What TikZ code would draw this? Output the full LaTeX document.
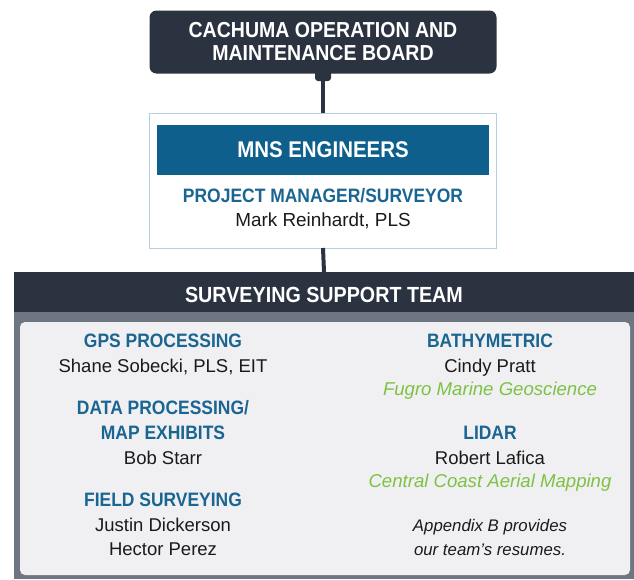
\documentclass[tikz,border=0pt]{standalone}
\usepackage{fontspec}
\setmainfont{Liberation Sans}[BoldFeatures={FakeStretch=0.9},BoldItalicFeatures={FakeStretch=0.9}]
\definecolor{navy}{HTML}{2B3340}
\definecolor{mnsblue}{HTML}{0F5F8C}
\definecolor{headblue}{HTML}{1A6591}
\definecolor{grn}{HTML}{7DC243}
\definecolor{framegray}{HTML}{6E7681}
\definecolor{panelbg}{HTML}{F0F0F2}
\definecolor{lborder}{HTML}{B5CFE0}
\definecolor{txt}{HTML}{1A1A1A}
\tikzset{
  every node/.style={inner sep=0pt, outer sep=0pt},
  wtitle/.style={anchor=base, text=white, font=\fontsize{21.7}{24}\selectfont\bfseries},
  bhead/.style={anchor=base, text=headblue, font=\fontsize{19.4}{22}\selectfont\bfseries},
  pname/.style={anchor=base, text=txt, font=\fontsize{18.5}{21}\selectfont},
  company/.style={anchor=base, text=grn, font=\fontsize{18.6}{21}\selectfont\itshape},
  note/.style={anchor=base, text=txt, font=\fontsize{16.8}{19}\selectfont\itshape},
  conn/.style={draw=navy, line width=4pt}
}
\begin{document}
\begin{tikzpicture}[x=1pt, y=-1pt]
\useasboundingbox (0,0) rectangle (634,579);
% top board
\node[fill=navy, rounded corners=7pt, minimum width=347pt, minimum height=63pt] (board) at (323,42) {};
\node[wtitle] (board1) at (323,37) {CACHUMA OPERATION AND};
\node[wtitle] (board2) at (323,60) {MAINTENANCE BOARD};
% MNS box
\node[fill=white, draw=lborder, line width=1pt, minimum width=347pt, minimum height=135pt] (mns) at (323,180.5) {};
\node[fill=mnsblue, minimum width=332pt, minimum height=50pt] (mnsbar) at (323,150) {};
\node[anchor=base, text=white, font=\fontsize{22.7}{25}\selectfont\bfseries] (mnstxt) at (323,157) {MNS ENGINEERS};
\node[bhead] (pm) at (323,202) {PROJECT MANAGER/SURVEYOR};
\node[pname, font=\fontsize{18.9}{21}\selectfont] (mark) at (323,226) {Mark Reinhardt, PLS};
% team frame
\node[fill=framegray, minimum width=620pt, minimum height=307pt] (team) at (324,425.5) {};
\node[fill=navy, minimum width=620pt, minimum height=40pt] (teamhead) at (324,292) {};
\node[fill=panelbg, rounded corners=5pt, minimum width=610pt, minimum height=253pt] (panel) at (325,448.5) {};
\node[wtitle, font=\fontsize{21.9}{24}\selectfont\bfseries] (teamtxt) at (324,302) {SURVEYING SUPPORT TEAM};
% connectors
\fill[navy, rounded corners=3pt] (315,68) rectangle (331,81);
\draw[conn] (board.south) -- (mns.north);
\draw[conn] (mns.south) -- (teamhead.north);
% left column
\node[bhead] (gps) at (163,347) {GPS PROCESSING};
\node[pname] (shane) at (163,372) {Shane Sobecki, PLS, EIT};
\node[bhead] (data1) at (163,414) {DATA PROCESSING/};
\node[bhead] (data2) at (163,439) {MAP EXHIBITS};
\node[pname] (bob) at (163,464) {Bob Starr};
\node[bhead] (field) at (163,506) {FIELD SURVEYING};
\node[pname] (justin) at (163,531) {Justin Dickerson};
\node[pname] (hector) at (163,555) {Hector Perez};
% right column
\node[bhead] (bathy) at (490,347) {BATHYMETRIC};
\node[pname] (cindy) at (490,372) {Cindy Pratt};
\node[company] (fugro) at (490,395) {Fugro Marine Geoscience};
\node[bhead] (lidar) at (490,439) {LIDAR};
\node[pname] (robert) at (490,464) {Robert Lafica};
\node[company] (ccam) at (490,487) {Central Coast Aerial Mapping};
\node[note] (app1) at (490,531) {Appendix B provides};
\node[note] (app2) at (490,555) {our team's resumes.};
\end{tikzpicture}
\end{document}
